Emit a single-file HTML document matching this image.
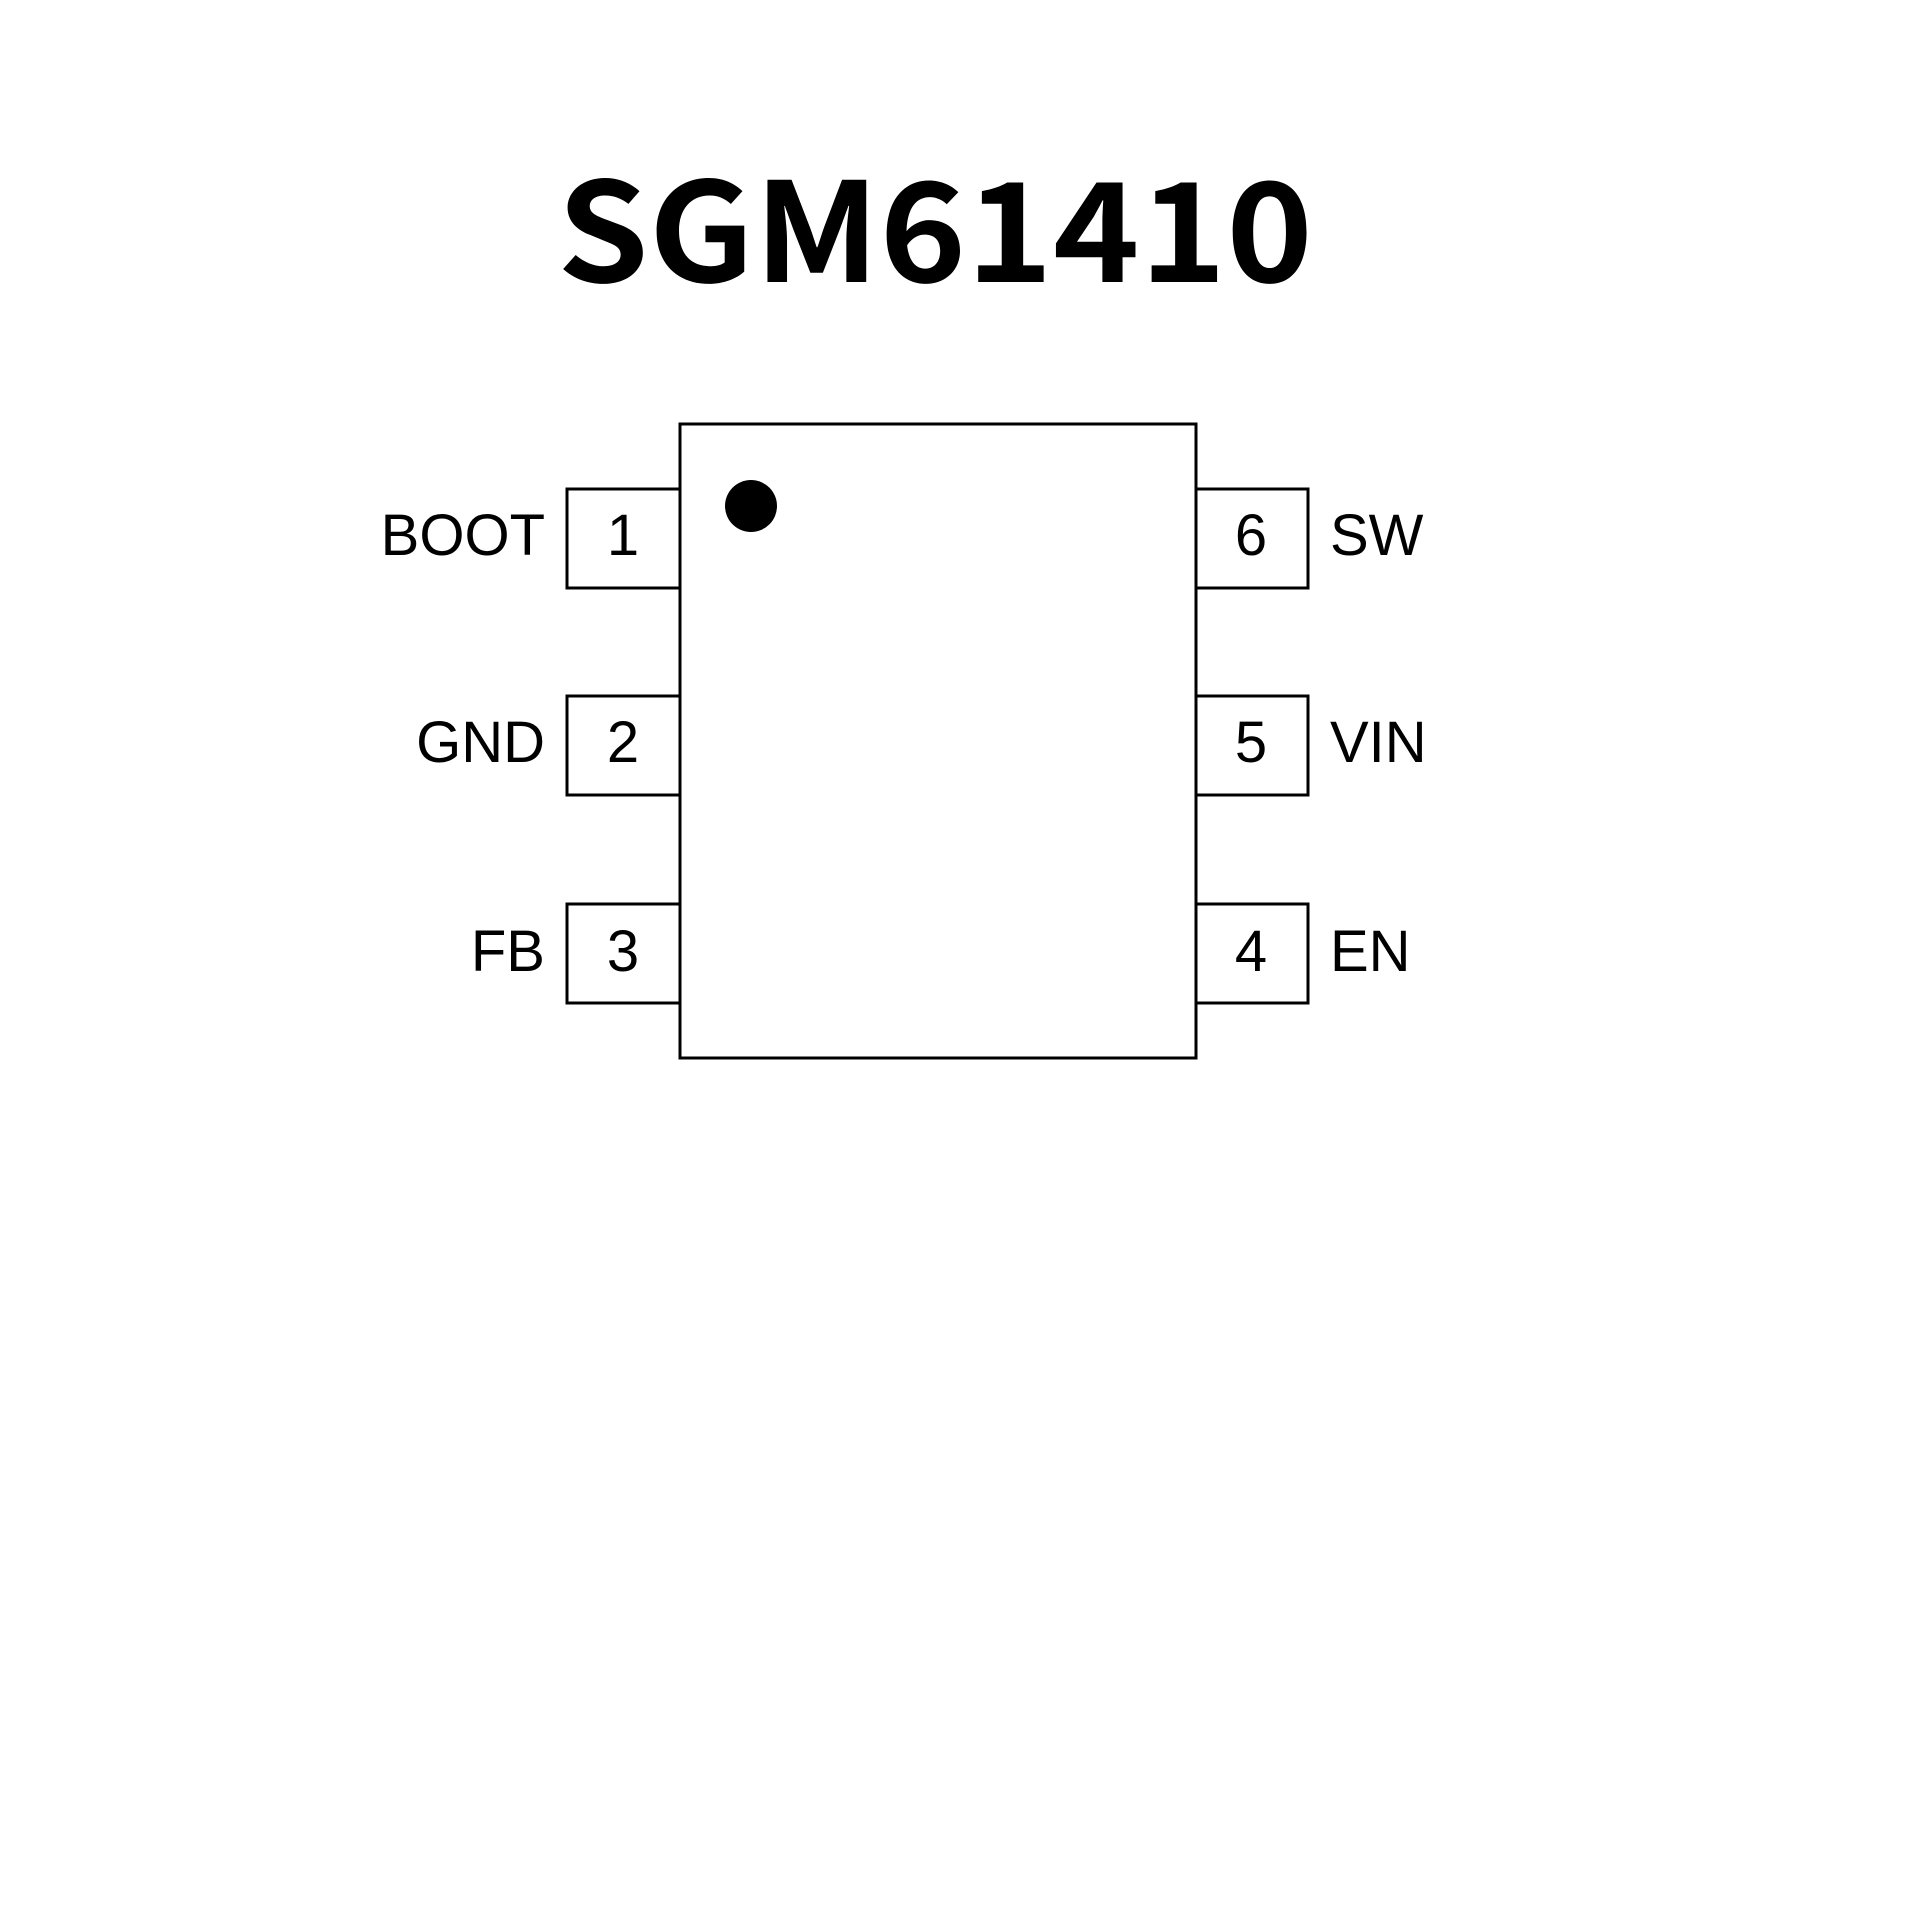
<!DOCTYPE html>
<html><head><style>
html,body{margin:0;padding:0;background:#fff;width:1920px;height:1920px;overflow:hidden}
</style></head><body>
<svg width="1920" height="1920" viewBox="0 0 1920 1920" xmlns="http://www.w3.org/2000/svg">
<rect width="1920" height="1920" fill="#fff"/>
<text x="935" y="282" text-anchor="middle" font-family="Noto Sans CJK SC, Liberation Sans, sans-serif" font-weight="bold" font-size="138" fill="#000" textLength="756" lengthAdjust="spacingAndGlyphs">SGM61410</text>
<g fill="none" stroke="#000" stroke-width="3">
<rect x="680" y="424" width="516" height="634"/>
<polyline points="680,489 567,489 567,588 680,588"/>
<polyline points="680,696 567,696 567,795 680,795"/>
<polyline points="680,904 567,904 567,1003 680,1003"/>
<polyline points="1196,489 1308,489 1308,588 1196,588"/>
<polyline points="1196,696 1308,696 1308,795 1196,795"/>
<polyline points="1196,904 1308,904 1308,1003 1196,1003"/>
</g>
<circle cx="751" cy="506" r="26" fill="#000"/>
<g font-family="Liberation Sans, sans-serif" font-size="58" fill="#000">
<g text-anchor="middle">
<text x="623" y="555">1</text>
<text x="623" y="762">2</text>
<text x="623" y="971">3</text>
<text x="1251" y="555">6</text>
<text x="1251" y="762">5</text>
<text x="1251" y="971">4</text>
</g>
<g text-anchor="end">
<text x="545" y="555">BOOT</text>
<text x="545" y="762">GND</text>
<text x="545" y="971">FB</text>
</g>
<text x="1330" y="555">SW</text>
<text x="1330" y="762">VIN</text>
<text x="1330" y="971">EN</text>
</g>
</svg>
</body></html>
